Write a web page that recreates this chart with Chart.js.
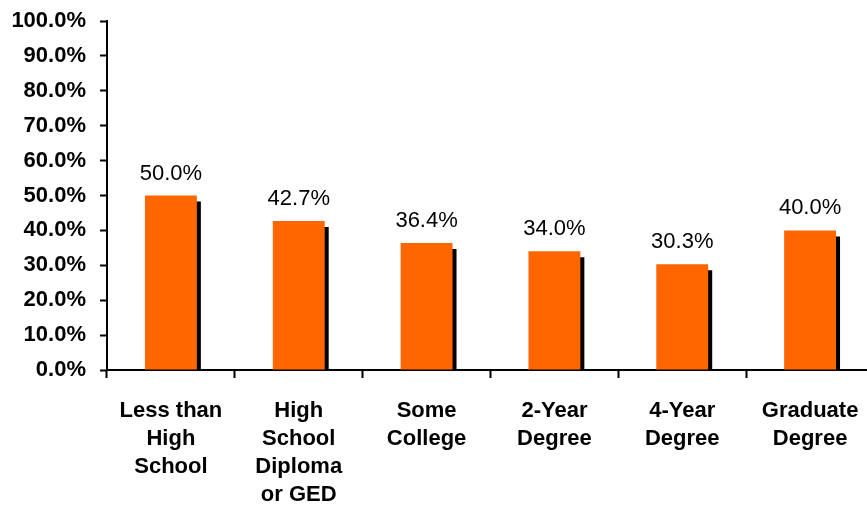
<!DOCTYPE html>
<html>
<head>
<meta charset="utf-8">
<script src="https://cdn.jsdelivr.net/npm/chart.js@4"></script>
<style>
  html, body { margin: 0; padding: 0; background: #fff; overflow: hidden; width: 867px; height: 511px; }
  #wrap { width: 874px; height: 511px; position: relative; }
</style>
</head>
<body>
<div id="wrap"><canvas id="c"></canvas></div>
<script>
const categories = [
  ["Less than", "High", "School"],
  ["High", "School", "Diploma", "or GED"],
  ["Some", "College"],
  ["2-Year", "Degree"],
  ["4-Year", "Degree"],
  ["Graduate", "Degree"]
];
const values = [50.0, 42.7, 36.4, 34.0, 30.3, 40.0];
const yTicks = [0, 10, 20, 30, 40, 50, 60, 70, 80, 90, 100];

const FONT = "'Liberation Sans', Arial, Helvetica, sans-serif";

const shadowPlugin = {
  id: 'barShadow',
  beforeDatasetDraw(chart) {
    const ctx = chart.ctx;
    ctx.save();
    ctx.shadowColor = '#000000';
    ctx.shadowOffsetX = 4;
    ctx.shadowOffsetY = 6;
    ctx.shadowBlur = 0;
  },
  afterDatasetDraw(chart) {
    chart.ctx.restore();
  }
};

const labelPlugin = {
  id: 'valueLabels',
  afterDatasetsDraw(chart) {
    const ctx = chart.ctx;
    const meta = chart.getDatasetMeta(0);
    ctx.save();
    ctx.font = "22px " + FONT;
    ctx.fillStyle = '#000';
    ctx.textAlign = 'center';
    ctx.textBaseline = 'alphabetic';
    meta.data.forEach((bar, i) => {
      ctx.fillText(values[i].toFixed(1) + '%', bar.x, bar.y - 16);
    });
    ctx.restore();
  }
};

new Chart(document.getElementById('c'), {
  type: 'bar',
  data: {
    labels: categories,
    datasets: [{
      data: values,
      backgroundColor: '#FF6600',
      borderWidth: 0,
      barPercentage: 0.406,
      categoryPercentage: 1.0,
      clip: 0
    }]
  },
  options: {
    responsive: true,
    maintainAspectRatio: false,
    animation: false,
    events: [],
    layout: { padding: { top: 21, right: 0, bottom: 0, left: 0 } },
    plugins: {
      legend: { display: false },
      tooltip: { enabled: false },
      title: { display: false }
    },
    scales: {
      x: {
        z: 1,
        border: { display: true, color: '#000', width: 2 },
        grid: {
          display: true,
          offset: true,
          drawOnChartArea: false,
          drawTicks: true,
          tickLength: 8,
          tickColor: '#000',
          tickWidth: 2
        },
        ticks: {
          color: '#000',
          font: { family: FONT, size: 22, weight: 'bold', lineHeight: 28 / 22 },
          padding: 19,
          maxRotation: 0,
          minRotation: 0,
          autoSkip: false
        },
        afterFit(scale) {
          scale.height = 141;
          scale.paddingLeft = 0;
          scale.paddingRight = 0;
        }
      },
      y: {
        z: 1,
        min: 0,
        max: 100,
        border: { display: true, color: '#000', width: 2 },
        grid: {
          display: true,
          drawOnChartArea: false,
          drawTicks: true,
          tickLength: 7,
          tickColor: '#000',
          tickWidth: 2
        },
        afterBuildTicks(scale) {
          scale.ticks = yTicks.map(v => ({ value: v }));
        },
        ticks: {
          color: '#000',
          font: { family: FONT, size: 22, weight: 'bold' },
          padding: 14,
          callback: (v) => Number(v).toFixed(1) + '%'
        },
        afterFit(scale) {
          scale.width = 107;
          scale.paddingTop = 0;
          scale.paddingBottom = 0;
        }
      }
    }
  },
  plugins: [shadowPlugin, labelPlugin]
});
</script>
</body>
</html>
